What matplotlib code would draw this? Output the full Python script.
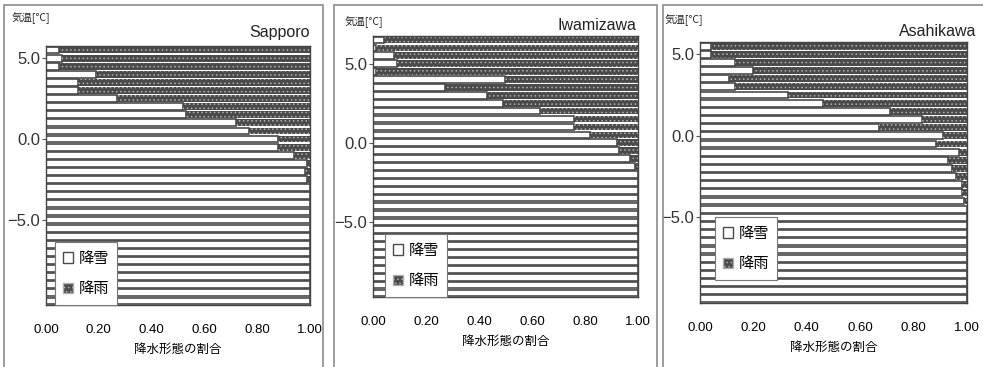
import matplotlib
matplotlib.use("Agg")
import matplotlib.pyplot as plt
from matplotlib.patches import Patch, Rectangle

plt.rcParams["font.family"] = ["Noto Sans CJK JP", "DejaVu Sans"]
plt.rcParams["hatch.linewidth"] = 0.6
plt.rcParams["axes.unicode_minus"] = True

# temperature classes (deg C), top to bottom
temps_sapporo = [5.5, 5.0, 4.5, 4.0, 3.5, 3.0, 2.5, 2.0, 1.5, 1.0, 0.5, 0.0,
                 -0.5, -1.0, -1.5, -2.0, -2.5, -3.0, -3.5, -4.0, -4.5, -5.0,
                 -5.5, -6.0, -6.5, -7.0, -7.5, -8.0, -8.5, -9.0, -9.5, -10.0]
temps_iwamizawa = [6.5, 6.0, 5.5, 5.0, 4.5, 4.0, 3.5, 3.0, 2.5, 2.0, 1.5, 1.0,
                   0.5, 0.0, -0.5, -1.0, -1.5, -2.0, -2.5, -3.0, -3.5, -4.0,
                   -4.5, -5.0, -5.5, -6.0, -6.5, -7.0, -7.5, -8.0, -8.5, -9.0, -9.5]
temps_asahikawa = list(temps_sapporo)

# fraction of precipitation falling as snow (rest is rain)
snow_sapporo = [0.05, 0.06, 0.05, 0.19, 0.12, 0.12, 0.27, 0.52, 0.53, 0.72, 0.77, 0.88,
                0.88, 0.94, 0.99, 0.98, 0.99, 1.0, 1.0, 1.0, 1.0, 1.0,
                1.0, 1.0, 1.0, 1.0, 1.0, 1.0, 1.0, 1.0, 1.0, 1.0]
snow_iwamizawa = [0.04, 0.01, 0.08, 0.09, 0.01, 0.50, 0.27, 0.43, 0.49, 0.63, 0.76, 0.76,
                  0.82, 0.92, 0.93, 0.97, 0.99, 1.0, 1.0, 1.0, 1.0, 1.0,
                  1.0, 1.0, 1.0, 1.0, 1.0, 1.0, 1.0, 1.0, 1.0, 1.0, 1.0]
snow_asahikawa = [0.04, 0.04, 0.13, 0.20, 0.11, 0.13, 0.33, 0.46, 0.71, 0.83, 0.67, 0.91,
                  0.885, 0.97, 0.93, 0.945, 0.96, 0.98, 0.98, 0.99, 1.0, 1.0,
                  1.0, 1.0, 1.0, 1.0, 1.0, 1.0, 1.0, 1.0, 1.0, 1.0]

stations = ["Sapporo", "Iwamizawa", "Asahikawa"]
xticks = [0.0, 0.2, 0.4, 0.6, 0.8, 1.0]
yticks = [5.0, 0.0, -5.0]

W, H = 983, 367
RAIN_FC = "#4a4a4a"
RAIN_HC = "#b0b0b0"
SNOW_EC = "#4a4a4a"

# axes boxes in pixels: left, top, right, bottom
boxes = [(46, 46, 310, 305), (373, 36, 638, 297), (700, 42, 967, 303)]
frames = [(4, 5, 323), (334, 5, 657), (663, 5, 990)]
legend_anchor = [(0.034, 0.0), (0.045, 0.0), (0.056, 0.088)]
title_pos = [(310, 33), (636, 26), (976, 32)]
ylab_pos = [(12, 18), (345, 22), (665, 20)]


def fig_rect(l, t, r, b):
    return [l / W, 1 - b / H, (r - l) / W, (b - t) / H]


fig = plt.figure(figsize=(W / 100, H / 100), dpi=100)
fig.patch.set_facecolor("white")

for (x0, y0, x1) in frames:
    fig.add_artist(Rectangle((x0 / W, -0.05), (x1 - x0) / W, 1 - y0 / H + 0.05,
                             transform=fig.transFigure, fill=False,
                             ec="#8c8c8c", lw=1.2))

data = [(temps_sapporo, snow_sapporo), (temps_iwamizawa, snow_iwamizawa),
        (temps_asahikawa, snow_asahikawa)]

for i, (temps, snow) in enumerate(data):
    ax = fig.add_axes(fig_rect(*boxes[i]))
    rain = [1 - s for s in snow]
    ax.barh(temps, snow, height=0.42, color="white", edgecolor=SNOW_EC, linewidth=1.2)
    ax.barh(temps, rain, left=snow, height=0.42, color=RAIN_FC, edgecolor=RAIN_HC,
            hatch="....", linewidth=0)
    ax.set_xlim(0, 1)
    ax.set_ylim(temps[-1] - 0.25, temps[0] + 0.25)
    ax.set_xticks(xticks)
    ax.set_xticklabels([f"{v:.2f}" for v in xticks], fontsize=9.5,
                       family=["Liberation Sans", "DejaVu Sans"])
    ax.tick_params(axis="x", length=0, pad=14)
    ax.set_yticks(yticks)
    ax.set_yticklabels(["5.0", "0.0", "\u22125.0"], fontsize=12,
                       family=["Liberation Sans", "DejaVu Sans"], color="#333333")
    ax.tick_params(axis="y", length=3, pad=1, color="#555555")
    for sp in ax.spines.values():
        sp.set_color("#444444")
        sp.set_linewidth(1.0)
    ax.set_xlabel("降水形態の割合", fontsize=9, labelpad=5)

    handles = [Patch(facecolor="white", edgecolor=SNOW_EC, label="降雪"),
               Patch(facecolor=RAIN_FC, edgecolor=RAIN_HC, hatch="....", label="降雨")]
    leg = ax.legend(handles=handles, loc="lower left", bbox_to_anchor=legend_anchor[i],
                    borderaxespad=0, fontsize=11, handlelength=0.7, handleheight=0.7,
                    handletextpad=0.35, labelspacing=0.9, borderpad=0.5,
                    fancybox=False, framealpha=1, edgecolor="#777777")
    leg.get_frame().set_linewidth(0.8)

    tx, ty = title_pos[i]
    fig.text(tx / W, 1 - ty / H, stations[i], ha="right", va="center", fontsize=11.5,
             family=["Liberation Sans", "DejaVu Sans"], color="#222222")
    lx, ly = ylab_pos[i]
    fig.text(lx / W, 1 - ly / H, "気温[°C]", ha="left", va="center", fontsize=7.5,
             color="#222222")

fig.savefig("out.png", dpi=100, facecolor="white")
